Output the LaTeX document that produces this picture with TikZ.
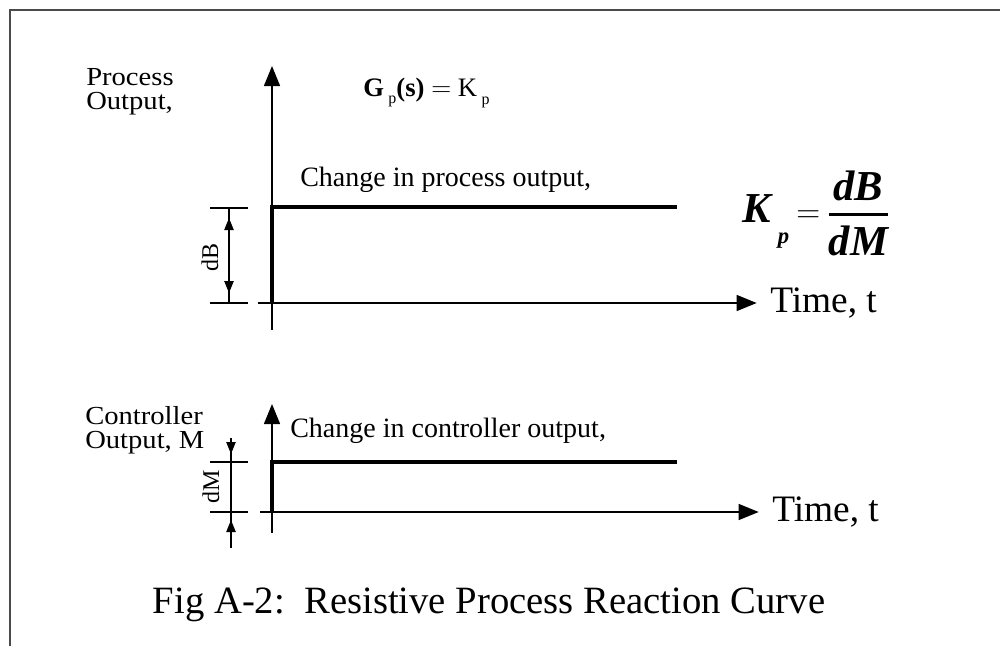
\documentclass[tikz,border=0pt]{standalone}
\usepackage{amsmath}
\usepackage{fontspec}
\setmainfont{Liberation Serif}
\newfontfamily\widefont[FakeStretch=1.1]{Liberation Serif}
\usetikzlibrary{arrows.meta}
\definecolor{frameGrey}{HTML}{4A4A4A}

\begin{document}
\begin{tikzpicture}[x=0.75pt,y=-0.75pt,
    axis/.style={line width=1pt,-{Triangle[length=15pt,width=12pt]}},
    stepline/.style={line width=3pt},
    tick/.style={line width=1pt},
    dimtip/.style={line width=1pt,-{Triangle[length=9pt,width=7pt]}},
    lbl/.style={font=\widefont\fontsize{19.5}{20}\selectfont,anchor=west,inner sep=0pt},
    note/.style={font=\fontsize{21}{24}\selectfont,inner sep=0pt},
    timelbl/.style={font=\fontsize{28}{30}\selectfont,anchor=west,inner sep=0pt}]
  \useasboundingbox (0,0) rectangle (1000,646);
  \draw[frameGrey,line width=1.6pt] (10,646) |- (1000,10);

  % upper plot: process output
  \coordinate (o1) at (272,303);
  \coordinate (y1bot) at (272,330);
  \coordinate (y1top) at (272,66);
  \coordinate (x1beg) at (258,303);
  \coordinate (s1top) at (272,207);
  \coordinate (s1end) at (677,207);
  \node[lbl] (proc) at (86,77) {Process};
  \node[lbl] (pout) at (86,104) {Output,};
  \node[timelbl] (t1) at (770,303) {Time, t};
  \draw[axis] (y1bot) -- (y1top);
  \draw[axis,shorten >=10pt] (x1beg) -- (t1.west);
  \draw[stepline] (o1) -- (s1top) -- (s1end);
  \node[note,anchor=west] (chg1) at (300,180) {Change in process output,};
  \node[font=\fontsize{20}{22}\selectfont,anchor=west,inner sep=0pt] (gp) at (363,93)
    {\textbf{G}\,\raisebox{-0.6ex}{\fontsize{12}{12}\selectfont p}\textbf{(s)}\ $\mathbf{=}$\ K\,\raisebox{-0.7ex}{\fontsize{12}{12}\selectfont p}};
  % dB dimension
  \coordinate (dbtop) at (229,208);
  \coordinate (dbbot) at (229,303);
  \draw[tick] (210,208) -- (248,208);
  \draw[tick] (210,303) -- (248,303);
  \draw[tick] (dbtop) -- (dbbot);
  \draw[dimtip] (229,250) -- (229,218);
  \draw[dimtip] (229,262) -- (229,293);
  \node[font=\fontsize{18}{18}\selectfont,rotate=90,inner sep=0pt] (dB) at (210,257) {dB};
  \node[font=\fontsize{32}{34}\selectfont\bfseries\itshape] (kp) at (816,213)
    {K\,\raisebox{-0.5em}{\fontsize{17}{17}\selectfont p}\,$\mathbf{=}$\,$\genfrac{}{}{2.4pt}{0}{\text{dB}}{\text{dM}}$};

  % lower plot: controller output
  \coordinate (o2) at (272,512);
  \coordinate (y2bot) at (272,533);
  \coordinate (y2top) at (272,404);
  \coordinate (x2beg) at (260,512);
  \coordinate (s2top) at (272,462);
  \coordinate (s2end) at (677,462);
  \node[lbl] (ctrl) at (85,416) {Controller};
  \node[lbl] (cout) at (85,443) {Output, M};
  \node[timelbl] (t2) at (772,512) {Time, t};
  \draw[axis] (y2bot) -- (y2top);
  \draw[axis,shorten >=10pt] (x2beg) -- (t2.west);
  \draw[stepline] (o2) -- (s2top) -- (s2end);
  \node[note,anchor=west] (chg2) at (290,431) {Change in controller output,};
  % dM dimension
  \coordinate (dmtop) at (231,438);
  \coordinate (dmbot) at (231,548);
  \draw[tick] (210,462) -- (248,462);
  \draw[tick] (210,512) -- (248,512);
  \draw[tick] (dmtop) -- (dmbot);
  \draw[dimtip] (231,438) -- (231,454);
  \draw[dimtip] (231,536) -- (231,520);
  \node[font=\fontsize{18}{18}\selectfont,rotate=90,inner sep=0pt] (dM) at (211,487) {dM};

  \node[font=\fontsize{29}{32}\selectfont] (cap) at (489,605)
    {Fig A-2:\ \ Resistive Process Reaction Curve};
\end{tikzpicture}
\end{document}
